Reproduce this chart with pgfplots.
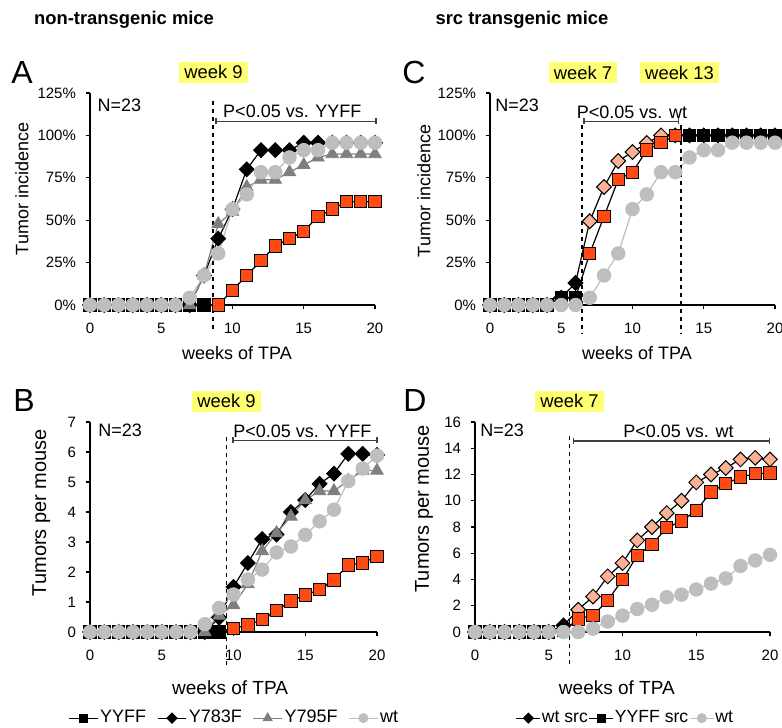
\documentclass[border=0pt]{standalone}
\usepackage{fontspec}
\setmainfont{Liberation Sans}
\usepackage{pgfplots}
\usepackage{pgfplotstable}
\pgfplotsset{compat=1.18}

\definecolor{cOra}{HTML}{FF4A14}
\definecolor{cSal}{HTML}{FBB196}
\definecolor{cTri}{HTML}{7F7F7F}
\definecolor{cCir}{HTML}{BEBEBE}
\definecolor{cHi}{HTML}{FFFF73}

% A: tumor incidence [%], non-transgenic
\pgfplotstableread{
wk yyff y783f y795f wt
0  0    0    0    0
1  0    0    0    0
2  0    0    0    0
3  0    0    0    0
4  0    0    0    0
5  0    0    0    0
6  0    0    0    0
7  0    0    0    4.3
8  0    17.4 17.4 17.4
9  0    39.1 47.8 30.4
10 8.7  56.5 55.0 56.5
11 17.4 80.0 69.6 65.2
12 26.1 91.3 73.9 78.3
13 34.8 91.3 73.9 78.3
14 39.1 91.3 78.3 87.0
15 43.5 95.7 82.6 91.3
16 52.2 95.7 87.0 91.3
17 56.5 95.7 89.0 95.7
18 60.9 95.7 89.0 95.7
19 60.9 95.7 89.0 95.7
20 60.9 95.7 89.0 95.7
}\tabA

% B: tumors per mouse, non-transgenic
\pgfplotstableread{
wk yyff y783f y795f wt
0  0    0    0    0
1  0    0    0    0
2  0    0    0    0
3  0    0    0    0
4  0    0    0    0
5  0    0    0    0
6  0    0    0    0
7  0    0    0    0
8  0    0    0    0.26
9  0    0.48 0.55 0.80
10 0.11 1.50 0.90 1.25
11 0.24 2.30 1.60 1.75
12 0.41 3.10 2.70 2.08
13 0.72 3.25 3.30 2.65
14 1.03 4.00 3.85 2.85
15 1.24 4.40 4.40 3.24
16 1.41 4.94 4.70 3.69
17 1.74 5.28 4.70 4.08
18 2.24 5.94 5.05 5.03
19 2.30 5.94 5.38 5.45
20 2.52 5.90 5.38 5.88
}\tabB

% C: tumor incidence [%], src transgenic
\pgfplotstableread{
wk wtsrc yyffsrc wt
0  0     0     0
1  0     0     0
2  0     0     0
3  0     0     0
4  0     0     0
5  4.3   4.3   0
6  13.0  4.3   0
7  49.4  30.4  4.3
8  69.6  52.2  17.4
9  84.9  73.9  30.4
10 90.2  78.3  56.5
11 95.5  91.3  65.2
12 100   95.7  78.3
13 100   100   78.3
14 100   100   87.0
15 100   100   91.3
16 100   100   91.3
17 100   100   95.7
18 100   100   95.7
19 100   100   95.7
20 100   100   95.7
}\tabC

% D: tumors per mouse, src transgenic
\pgfplotstableread{
wk wtsrc yyffsrc wt
0  0     0     0
1  0     0     0
2  0     0     0
3  0     0     0
4  0     0     0
5  0     0     0
6  0.5   0.1   0
7  1.7   1.0   0
8  2.7   1.27  0.26
9  4.24  2.41  0.80
10 5.25  3.98  1.25
11 6.98  5.84  1.75
12 8.0   6.68  2.08
13 9.06  7.94  2.65
14 10.0  8.45  2.85
15 11.4  9.26  3.24
16 12.0  10.66 3.69
17 12.5  11.3  4.08
18 13.15 11.8  5.03
19 13.27 12.06 5.45
20 13.15 12.1  5.88
}\tabD

\pgfplotsset{
  panel/.style={
    scale only axis, clip=false,
    axis x line*=bottom, axis y line*=left,
    axis line style={black, line width=0.6pt},
    xmin=0, xmax=20, xtick={0,5,10,15,20}, xticklabels={0,5,10,15,20},
    tick align=outside, major tick length=2pt,
    tick style={black, line width=0.6pt},
    tick label style={font=\fontsize{7.5}{9}\selectfont},
    xticklabel style={yshift=-3.5pt},
    yticklabel style={xshift=-1.5pt},
    legend style={draw=none, fill=none, legend columns=4,
                  font=\fontsize{9}{10}\selectfont, column sep=0pt,
                  nodes={inner xsep=1pt}},
    legend image code/.code={\draw[mark repeat=2, mark phase=2, #1]
      plot coordinates {(0cm,0cm) (0.25cm,0cm) (0.5cm,0cm)};},
  },
  sqK/.style={only marks, mark=square*, mark size=3.1pt,
              mark options={draw=black, fill=black, line width=0.5pt}},
  sqO/.style={only marks, mark=square*, mark size=3.1pt,
              mark options={draw=black, fill=cOra, line width=0.5pt}},
  diK/.style={only marks, mark=square*, mark size=2.6pt,
              mark options={rotate=45, draw=black, fill=black, line width=0.5pt}},
  diS/.style={only marks, mark=square*, mark size=2.6pt,
              mark options={rotate=45, draw=black, fill=cSal, line width=0.5pt}},
  tri/.style={only marks, mark=triangle*, mark size=3.6pt,
              mark options={draw=cTri, fill=cTri}},
  cir/.style={only marks, mark=*, mark size=3.4pt,
              mark options={draw=cCir, fill=cCir}},
  lnK/.style={black, line width=0.6pt, no markers},
  lnT/.style={cTri, line width=0.6pt, no markers},
  lnC/.style={cCir, line width=0.6pt, no markers},
}
\tikzset{
  vline/.style={black, line width=0.6pt, dash pattern=on 2pt off 2pt},
  brk/.style={black!75, line width=0.6pt},
  note/.style={inner sep=0pt, font=\fontsize{9}{10}\selectfont},
  xlab/.style={inner sep=0pt, font=\fontsize{9}{10}\selectfont},
  ylab/.style={inner sep=0pt, rotate=90},
  hi/.style={fill=cHi, inner xsep=2.5pt, inner ysep=0pt, minimum height=10.5pt,
             font=\fontsize{9.2}{10}\selectfont},
  letter/.style={inner sep=0pt, font=\fontsize{16}{18}\selectfont},
}

\begin{document}
\begin{tikzpicture}
\path[use as bounding box] (0pt,0pt) rectangle (391pt,-364pt);

% ---------------- A ----------------
\begin{axis}[panel, at={(45pt,-152.5pt)}, anchor=south west,
    width=142.5pt, height=106pt, ymin=0, ymax=125,
    ytick={0,25,50,75,100,125},
    yticklabels={0\%,25\%,50\%,75\%,100\%,125\%},
]
\addplot[lnK, forget plot] table[x=wk, y=yyff] {\tabA};
\addplot[sqK, restrict x to domain=0:8, forget plot] table[x=wk, y=yyff] {\tabA};
\addplot[sqO, restrict x to domain=9:20, forget plot] table[x=wk, y=yyff] {\tabA};
\addplot[lnK, forget plot] table[x=wk, y=y783f] {\tabA};
\addplot[diK, forget plot] table[x=wk, y=y783f] {\tabA};
\addplot[lnT, forget plot] table[x=wk, y=y795f] {\tabA};
\addplot[tri, forget plot] table[x=wk, y=y795f] {\tabA};
\addplot[lnC, forget plot] table[x=wk, y=wt] {\tabA};
\addplot[cir, forget plot] table[x=wk, y=wt] {\tabA};
\draw[vline] (axis cs:8.63,120) -- (axis cs:8.63,-16);
\draw[brk] (axis cs:8.84,108.2) -- (axis cs:20.07,108.2);
\draw[brk] ([yshift=-1.5pt]axis cs:8.84,108.2) -- ([yshift=1.5pt]axis cs:8.84,108.2);
\draw[brk] ([yshift=-1.5pt]axis cs:20.07,108.2) -- ([yshift=1.5pt]axis cs:20.07,108.2);
\node[note, anchor=west] at (axis cs:0.5,117.6) {N=23};
\node[note] at (axis cs:14.2,114.3) {P<0.05 vs. YYFF};
\node[xlab] at (axis description cs:0.516,-0.226) {weeks of TPA};
\node[ylab, font=\fontsize{9}{10}\selectfont] at (axis description cs:-0.239,0.547) {Tumor incidence};
\end{axis}

% ---------------- C ----------------
\begin{axis}[panel, at={(245pt,-152.5pt)}, anchor=south west,
    width=142.5pt, height=106pt, ymin=0, ymax=125,
    ytick={0,25,50,75,100,125},
    yticklabels={0\%,25\%,50\%,75\%,100\%,125\%},
]
\addplot[lnK, forget plot] table[x=wk, y=wtsrc] {\tabC};
\addplot[diK, restrict x to domain=0:6, forget plot] table[x=wk, y=wtsrc] {\tabC};
\addplot[diS, restrict x to domain=7:13, forget plot] table[x=wk, y=wtsrc] {\tabC};
\addplot[diK, restrict x to domain=14:20, forget plot] table[x=wk, y=wtsrc] {\tabC};
\addplot[lnK, forget plot] table[x=wk, y=yyffsrc] {\tabC};
\addplot[sqK, restrict x to domain=0:6, forget plot] table[x=wk, y=yyffsrc] {\tabC};
\addplot[sqO, restrict x to domain=7:13, forget plot] table[x=wk, y=yyffsrc] {\tabC};
\addplot[sqK, restrict x to domain=14:20, forget plot] table[x=wk, y=yyffsrc] {\tabC};
\addplot[lnC, forget plot] table[x=wk, y=wt] {\tabC};
\addplot[cir, forget plot] table[x=wk, y=wt] {\tabC};
\draw[vline] (axis cs:6.46,106) -- (axis cs:6.46,-17);
\draw[vline] (axis cs:13.4,106) -- (axis cs:13.4,-17);
\draw[brk] (axis cs:6.6,108.2) -- (axis cs:13.2,108.2);
\draw[brk] ([yshift=-1.5pt]axis cs:6.6,108.2) -- ([yshift=1.5pt]axis cs:6.6,108.2);
\draw[brk] ([yshift=-1.5pt]axis cs:13.2,108.2) -- ([yshift=1.5pt]axis cs:13.2,108.2);
\node[note, anchor=west] at (axis cs:0.35,117.6) {N=23};
\node[note] at (axis cs:9.96,113.8) {P<0.05 vs. wt};
\node[xlab] at (axis description cs:0.516,-0.226) {weeks of TPA};
\node[ylab, font=\fontsize{9}{10}\selectfont] at (axis description cs:-0.232,0.538) {Tumor incidence};
\end{axis}

% ---------------- B ----------------
\begin{axis}[panel, at={(45pt,-316pt)}, anchor=south west,
    width=143.5pt, height=105pt, ymin=0, ymax=7,
    ytick={0,1,2,3,4,5,6,7}, yticklabels={0,1,2,3,4,5,6,7},
    legend style={at={(axis description cs:0.503,-0.41)}, anchor=center,
                  /tikz/every even column/.append style={column sep=4.5pt}},
]
\addplot[lnK, forget plot] table[x=wk, y=yyff] {\tabB};
\addplot[sqK, restrict x to domain=0:9, forget plot] table[x=wk, y=yyff] {\tabB};
\addplot[sqO, restrict x to domain=10:20, forget plot] table[x=wk, y=yyff] {\tabB};
\addplot[lnK, forget plot] table[x=wk, y=y783f] {\tabB};
\addplot[diK, forget plot] table[x=wk, y=y783f] {\tabB};
\addplot[lnT, forget plot] table[x=wk, y=y795f] {\tabB};
\addplot[tri, forget plot] table[x=wk, y=y795f] {\tabB};
\addplot[lnC, forget plot] table[x=wk, y=wt] {\tabB};
\addplot[cir, forget plot] table[x=wk, y=wt] {\tabB};
\draw[vline] (axis cs:9.53,6.5) -- (axis cs:9.53,-1.17);
\draw[brk] (axis cs:9.97,6.39) -- (axis cs:20,6.39);
\draw[brk] ([yshift=-1.5pt]axis cs:9.97,6.39) -- ([yshift=1.5pt]axis cs:9.97,6.39);
\draw[brk] ([yshift=-1.5pt]axis cs:20,6.39) -- ([yshift=1.5pt]axis cs:20,6.39);
\node[note, anchor=west] at (axis cs:0.56,6.73) {N=23};
\node[note] at (axis cs:14.8,6.7) {P<0.05 vs. YYFF};
\node[xlab, font=\fontsize{9.5}{11}\selectfont] at (axis description cs:0.488,-0.265) {weeks of TPA};
\node[ylab, font=\fontsize{10}{11}\selectfont] at (axis description cs:-0.17,0.569) {Tumors per mouse};
\addlegendimage{black, line width=0.6pt, mark=square*, mark size=2pt, mark options={fill=black}}
\addlegendentry{YYFF}
\addlegendimage{black, line width=0.6pt, mark=square*, mark size=1.7pt, mark options={rotate=45, fill=black}}
\addlegendentry{Y783F}
\addlegendimage{cTri, line width=0.6pt, mark=triangle*, mark size=2.4pt, mark options={fill=cTri}}
\addlegendentry{Y795F}
\addlegendimage{cCir, line width=0.6pt, mark=*, mark size=2.2pt, mark options={fill=cCir}}
\addlegendentry{wt}
\end{axis}

% ---------------- D ----------------
\begin{axis}[panel, at={(237.5pt,-316pt)}, anchor=south west,
    width=147.5pt, height=105pt, ymin=0, ymax=16,
    ytick={0,2,4,6,8,10,12,14,16}, yticklabels={0,2,4,6,8,10,12,14,16},
    legend style={at={(axis description cs:0.508,-0.41)}, anchor=center,
                  font=\fontsize{8.8}{10}\selectfont, nodes={inner xsep=0.5pt}},
    legend image code/.code={\draw[mark repeat=2, mark phase=2, #1]
      plot coordinates {(0cm,0cm) (0.21cm,0cm) (0.42cm,0cm)};},
]
\addplot[lnK, forget plot] table[x=wk, y=wtsrc] {\tabD};
\addplot[diK, restrict x to domain=0:6, forget plot] table[x=wk, y=wtsrc] {\tabD};
\addplot[diS, restrict x to domain=7:20, forget plot] table[x=wk, y=wtsrc] {\tabD};
\addplot[lnK, forget plot] table[x=wk, y=yyffsrc] {\tabD};
\addplot[sqK, restrict x to domain=0:6, forget plot] table[x=wk, y=yyffsrc] {\tabD};
\addplot[sqO, restrict x to domain=7:20, forget plot] table[x=wk, y=yyffsrc] {\tabD};
\addplot[lnC, forget plot] table[x=wk, y=wt] {\tabD};
\addplot[cir, forget plot] table[x=wk, y=wt] {\tabD};
\draw[vline] (axis cs:6.38,14.9) -- (axis cs:6.38,-2.67);
\draw[brk] (axis cs:6.66,14.55) -- (axis cs:19.95,14.55);
\draw[brk] ([yshift=-1.5pt]axis cs:6.66,14.55) -- ([yshift=1.5pt]axis cs:6.66,14.55);
\draw[brk] ([yshift=-1.5pt]axis cs:19.95,14.55) -- ([yshift=1.5pt]axis cs:19.95,14.55);
\node[note, anchor=west] at (axis cs:0.34,15.4) {N=23};
\node[note] at (axis cs:13.8,15.26) {P<0.05 vs. wt};
\node[xlab, font=\fontsize{9.5}{11}\selectfont] at (axis description cs:0.481,-0.265) {weeks of TPA};
\node[ylab, font=\fontsize{10}{11}\selectfont] at (axis description cs:-0.173,0.586) {Tumors per mouse};
\addlegendimage{black, line width=0.6pt, mark=square*, mark size=1.7pt, mark options={rotate=45, fill=black}}
\addlegendentry{wt src}
\addlegendimage{black, line width=0.6pt, mark=square*, mark size=2pt, mark options={fill=black}}
\addlegendentry{YYFF src}
\addlegendimage{cCir, line width=0.6pt, mark=*, mark size=2.2pt, mark options={fill=cCir}}
\addlegendentry{wt}
\end{axis}

% headers, panel letters, week highlights
\node[inner sep=0pt, font=\fontsize{9.2}{10}\selectfont\bfseries] at (62pt,-10pt) {non-transgenic mice};
\node[inner sep=0pt, font=\fontsize{9.2}{10}\selectfont\bfseries] at (261pt,-10pt) {src transgenic mice};
\node[letter] at (11pt,-36pt) {A};
\node[letter] at (207pt,-36.25pt) {C};
\node[letter] at (12pt,-200pt) {B};
\node[letter] at (207.5pt,-200pt) {D};
\node[hi] at (106.75pt,-36pt) {week 9};
\node[hi] at (291.5pt,-36.25pt) {week 7};
\node[hi] at (339.75pt,-36.25pt) {week 13};
\node[hi] at (113.25pt,-200.5pt) {week 9};
\node[hi] at (284.75pt,-200.5pt) {week 7};
\end{tikzpicture}
\end{document}
